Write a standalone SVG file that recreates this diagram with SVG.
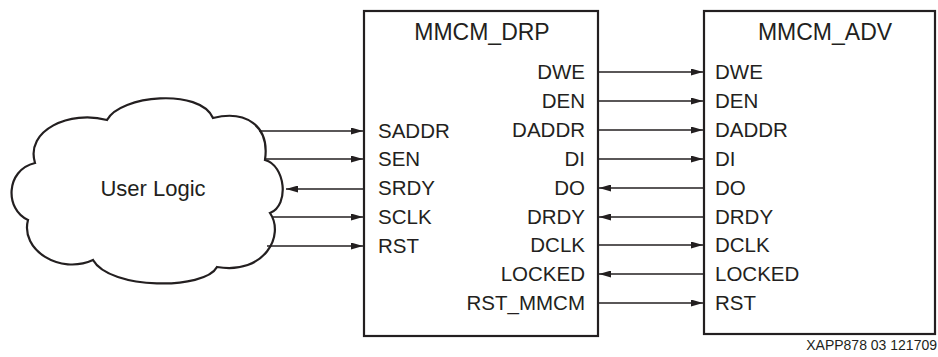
<svg xmlns="http://www.w3.org/2000/svg" width="938" height="357" viewBox="0 0 938 357">
<defs>
<marker id="ah" viewBox="0 0 12 7" refX="12" refY="3.5" markerWidth="12" markerHeight="7" markerUnits="userSpaceOnUse" orient="auto">
<path d="M0,0 L12,3.5 L0,7 Z" fill="#231f20"/>
</marker>
<style>
.box{fill:#fff;stroke:#231f20;stroke-width:2.2}
.cloud{fill:#fff;stroke:#231f20;stroke-width:2.2}
.w{stroke:#231f20;stroke-width:1.3;fill:none}
.a{marker-end:url(#ah)}
text{font-family:"Liberation Sans",Arial,sans-serif;fill:#231f20}
.lbl{font-size:20.5px}
.ttl{font-size:23px}
.r{text-anchor:end}
.m{text-anchor:middle}
.ft{font-size:14px}
</style>
</defs>
<rect width="938" height="357" fill="#fff"/>
<g id="user-logic">
<path class="cloud" d="M107,120 C120,95 200,88 213,118 C245,110 270,125 265,160 C285,165 290,205 270,213 C285,235 265,275 217,267 C205,290 110,290 93,260 C60,275 20,250 28,220 C5,210 5,170 35,163 C25,130 70,110 107,120 Z"/>
<text class="m" x="153" y="196" style="font-size:22px">User Logic</text>
</g>
<g id="mmcm-drp">
<rect class="box" x="364" y="11" width="234" height="325"/>
<text class="ttl m" x="482" y="40">MMCM_DRP</text>
<text class="lbl r" x="585" y="79">DWE</text>
<text class="lbl r" x="585" y="108">DEN</text>
<text class="lbl r" x="585" y="137">DADDR</text>
<text class="lbl r" x="585" y="166">DI</text>
<text class="lbl r" x="585" y="195">DO</text>
<text class="lbl r" x="585" y="224">DRDY</text>
<text class="lbl r" x="585" y="252">DCLK</text>
<text class="lbl r" x="585" y="281">LOCKED</text>
<text class="lbl r" x="585" y="310">RST_MMCM</text>
<text class="lbl" x="378" y="138">SADDR</text>
<text class="lbl" x="378" y="166">SEN</text>
<text class="lbl" x="378" y="195">SRDY</text>
<text class="lbl" x="378" y="224">SCLK</text>
<text class="lbl" x="378" y="253">RST</text>
</g>
<g id="mmcm-adv">
<rect class="box" x="704" y="11" width="231" height="323"/>
<text class="ttl m" x="825" y="40">MMCM_ADV</text>
<text class="lbl" x="715" y="79">DWE</text>
<text class="lbl" x="715" y="108">DEN</text>
<text class="lbl" x="715" y="137">DADDR</text>
<text class="lbl" x="715" y="166">DI</text>
<text class="lbl" x="715" y="195">DO</text>
<text class="lbl" x="715" y="224">DRDY</text>
<text class="lbl" x="715" y="252">DCLK</text>
<text class="lbl" x="715" y="281">LOCKED</text>
<text class="lbl" x="715" y="310">RST</text>
</g>
<g id="connectors">
<line class="w a" x1="259" y1="131" x2="363" y2="131"/>
<line class="w a" x1="265" y1="159" x2="363" y2="159"/>
<line class="w a" x1="363" y1="189" x2="286" y2="189"/>
<line class="w a" x1="272" y1="217" x2="363" y2="217"/>
<line class="w a" x1="267" y1="246" x2="363" y2="246"/>
<line class="w a" x1="599" y1="72" x2="703" y2="72"/>
<line class="w a" x1="599" y1="101" x2="703" y2="101"/>
<line class="w a" x1="599" y1="130" x2="703" y2="130"/>
<line class="w a" x1="599" y1="159" x2="703" y2="159"/>
<line class="w a" x1="703" y1="188" x2="599" y2="188"/>
<line class="w a" x1="703" y1="217" x2="599" y2="217"/>
<line class="w a" x1="599" y1="245" x2="703" y2="245"/>
<line class="w a" x1="703" y1="274" x2="599" y2="274"/>
<line class="w a" x1="599" y1="303" x2="703" y2="303"/>
</g>
<text class="ft r" x="937" y="350">XAPP878 03 121709</text>
</svg>
